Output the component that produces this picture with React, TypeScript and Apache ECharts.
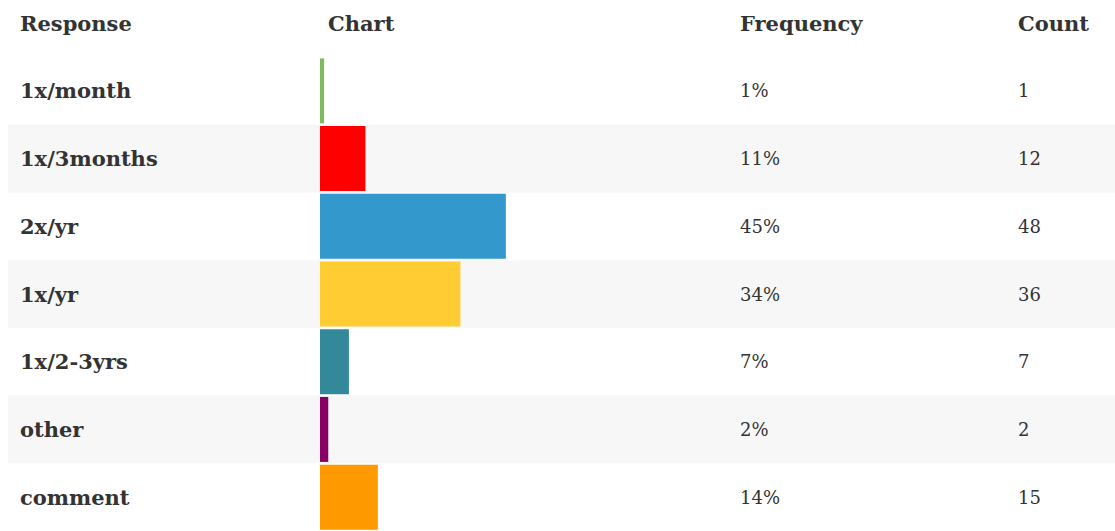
import React, { useEffect, useRef } from "react";
import * as echarts from "echarts";

const responses = ["1x/month", "1x/3months", "2x/yr", "1x/yr", "1x/2-3yrs", "other", "comment"];
const frequencies = [1, 11, 45, 34, 7, 2, 14];
const counts = [1, 12, 48, 36, 7, 2, 15];
const barColors = ["#7cbb5f", "#ff0000", "#3399cc", "#ffcc33", "#338899", "#880066", "#ff9900"];
const headers = ["Response", "Chart", "Frequency", "Count"];

const FONT = "'DejaVu Serif', 'Liberation Serif', serif";
const TEXT = "#333333";

export default function App() {
  const ref = useRef<HTMLDivElement>(null);
  useEffect(() => {
    if (!ref.current) return;
    const chart = echarts.init(ref.current, null, { renderer: "svg" });
    const top = 57;
    const height = 476;
    const headerX = [20, 328, 740, 1018];
    chart.setOption({
      animation: false,
      grid: [
        { left: 8, right: 0, top, height },
        { left: 320, width: 413, top, height },
      ],
      xAxis: [
        { gridIndex: 0, type: "value", show: false, min: 0, max: 1 },
        { gridIndex: 1, type: "value", show: false, min: 0, max: 100 },
      ],
      yAxis: [
        {
          gridIndex: 0,
          type: "category",
          inverse: true,
          data: responses,
          axisLine: { show: false },
          axisTick: { show: false },
          axisLabel: { show: false },
          splitLine: { show: false },
          splitArea: { show: true, areaStyle: { color: ["rgba(255,255,255,0)", "#f7f7f7"] } },
        },
        {
          gridIndex: 1,
          type: "category",
          inverse: true,
          position: "left",
          data: responses,
          axisLine: { show: false },
          axisTick: { show: false },
          axisLabel: {
            align: "left",
            margin: 300,
            fontFamily: FONT,
            fontWeight: "bold",
            fontSize: 21,
            color: TEXT,
          },
        },
        {
          gridIndex: 1,
          type: "category",
          inverse: true,
          position: "right",
          data: responses,
          axisLine: { show: false },
          axisTick: { show: false },
          axisLabel: {
            align: "left",
            margin: 7,
            fontFamily: FONT,
            fontSize: 18,
            color: TEXT,
            formatter: (_v: string, i: number) => frequencies[i] + "%",
          },
        },
        {
          gridIndex: 1,
          type: "category",
          inverse: true,
          position: "right",
          offset: 278,
          data: responses,
          axisLine: { show: false },
          axisTick: { show: false },
          axisLabel: {
            align: "left",
            margin: 7,
            fontFamily: FONT,
            fontSize: 18,
            color: TEXT,
            formatter: (_v: string, i: number) => String(counts[i]),
          },
        },
      ],
      series: [
        { type: "bar", xAxisIndex: 0, yAxisIndex: 0, data: [], silent: true },
        {
          type: "bar",
          xAxisIndex: 1,
          yAxisIndex: 1,
          barWidth: 65,
          data: frequencies.map((v, i) => ({ value: v, itemStyle: { color: barColors[i] } })),
        },
      ],
      graphic: headers.map((h, i) => ({
        type: "text",
        x: headerX[i],
        y: 23,
        style: {
          text: h,
          font: `bold 21px ${FONT}`,
          fill: TEXT,
          align: "left",
          verticalAlign: "middle",
        },
      })),
    });
    return () => chart.dispose();
  }, []);
  return (
    <div
      ref={ref}
      style={{ position: "fixed", left: 0, top: 0, width: 1115, height: 531, background: "#ffffff" }}
    />
  );
}
